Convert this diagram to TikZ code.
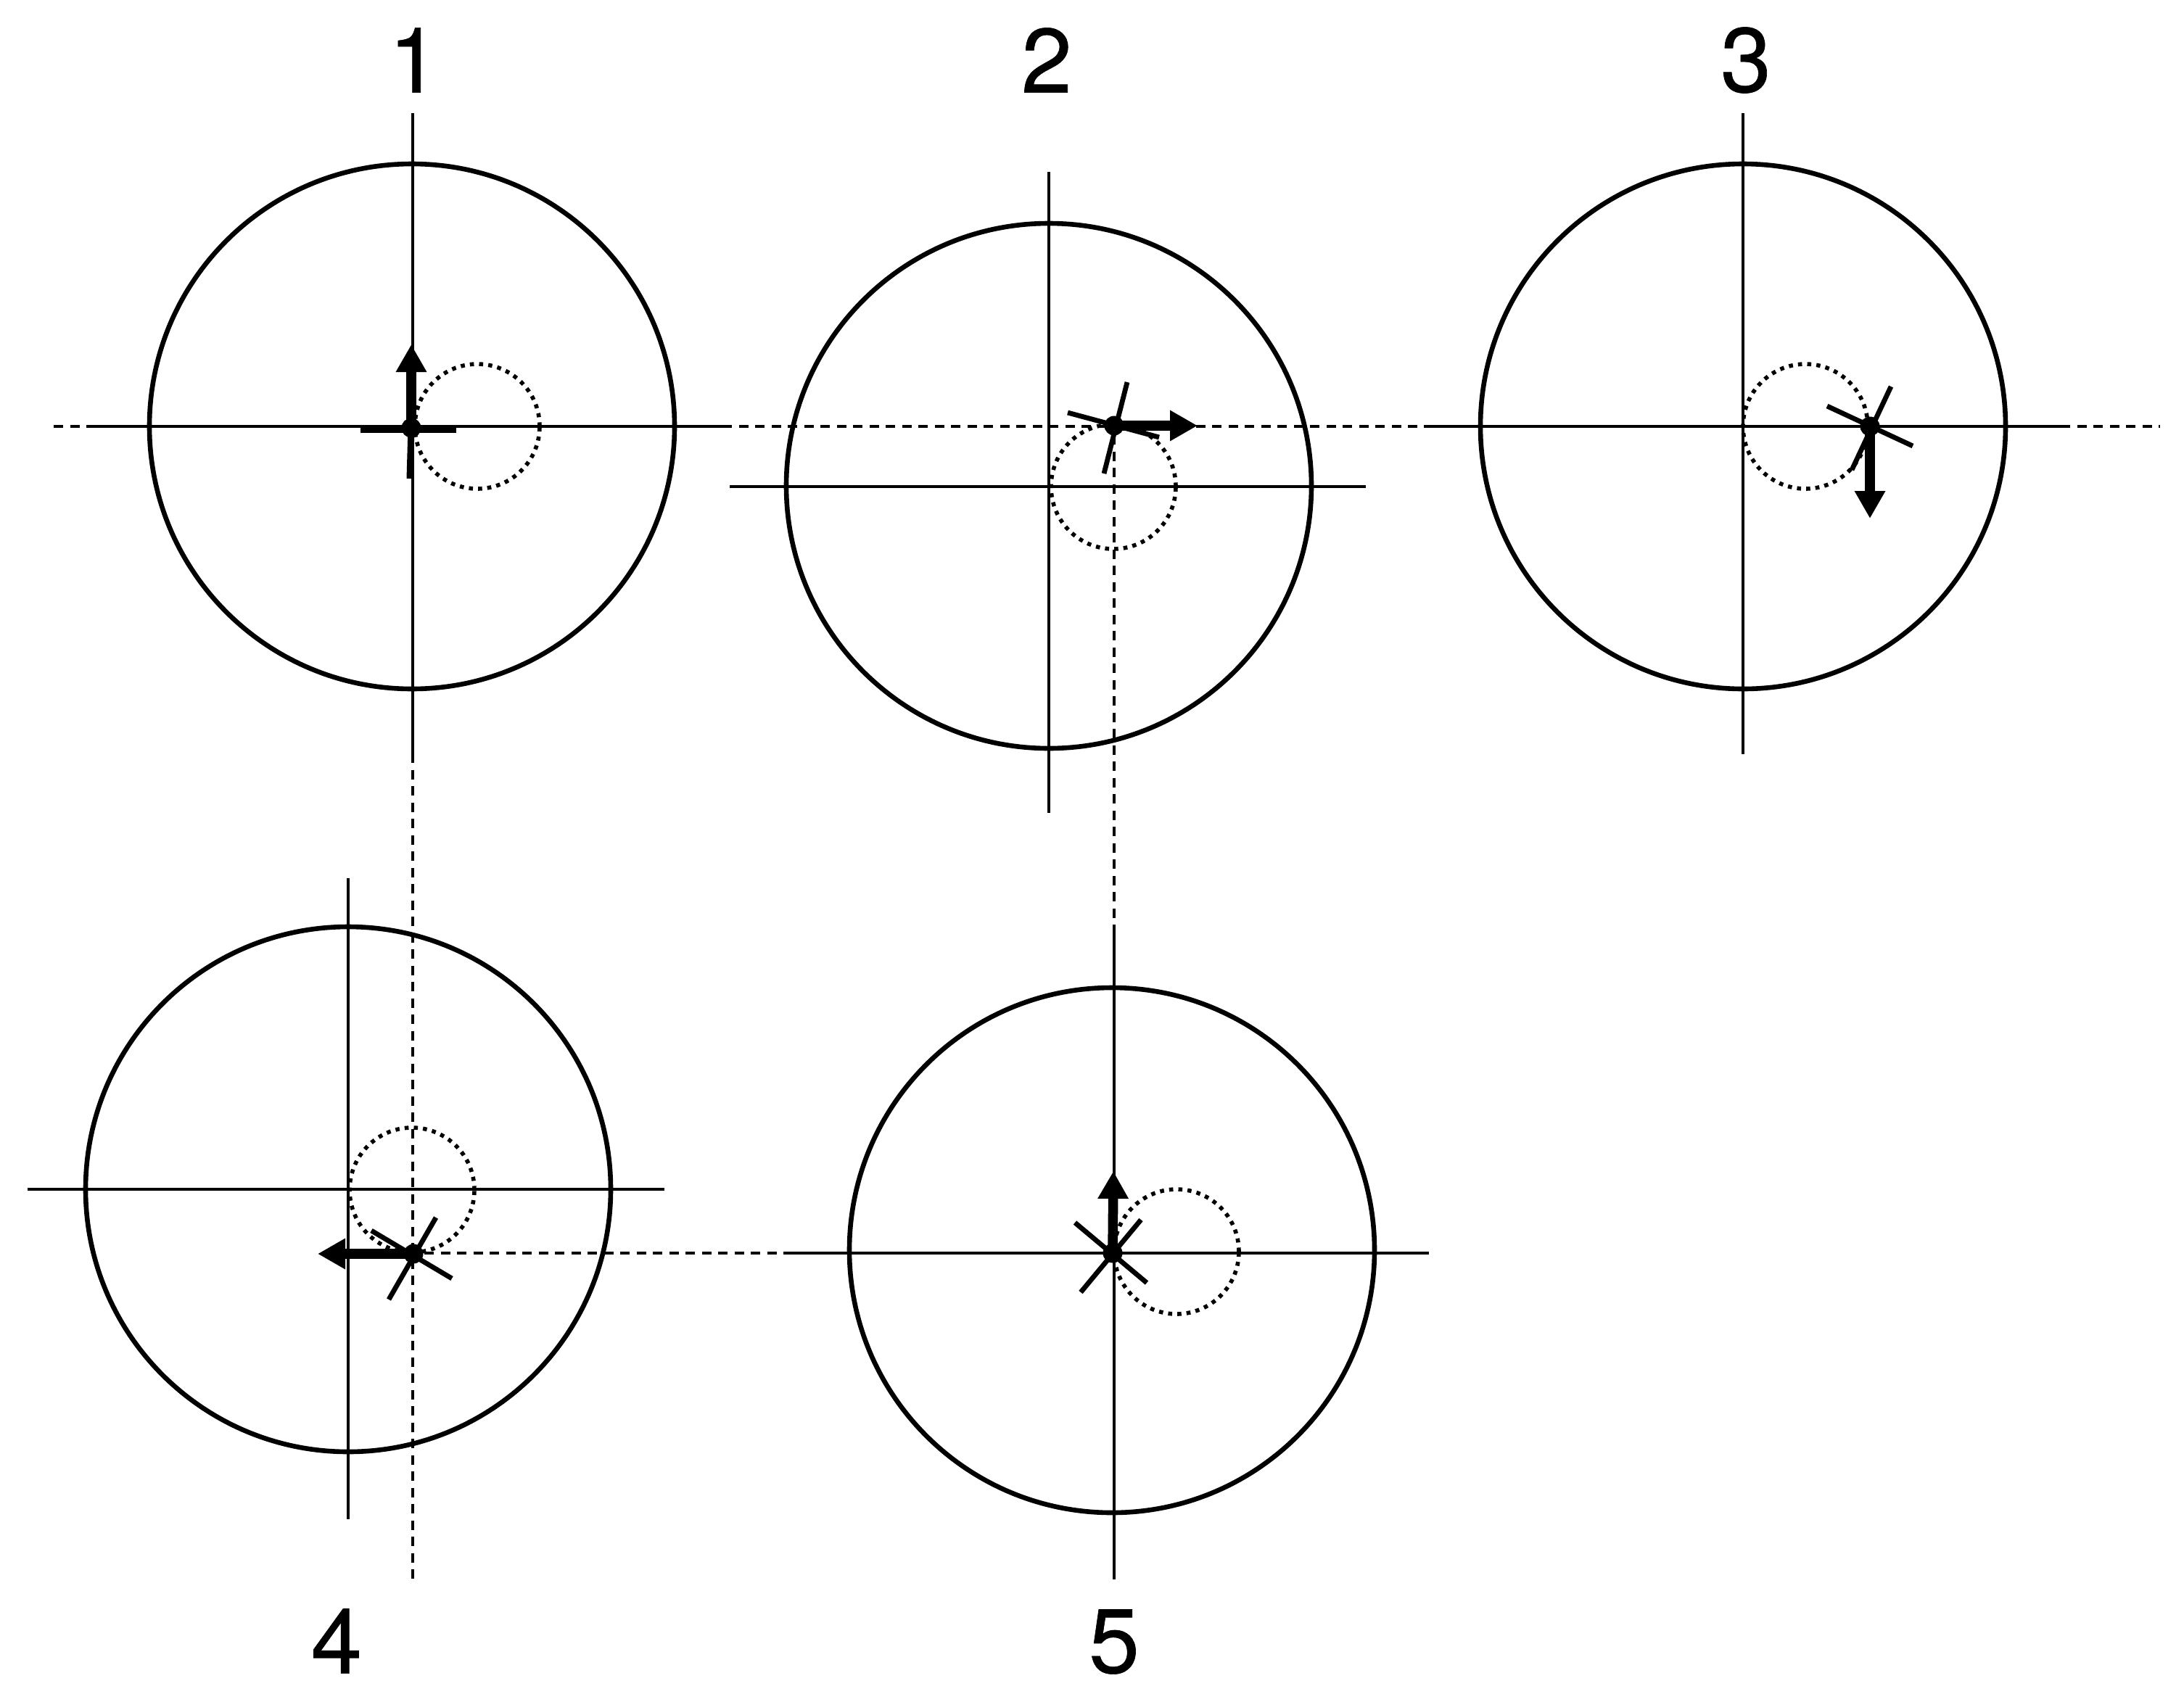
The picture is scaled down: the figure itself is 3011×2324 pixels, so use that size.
\documentclass[tikz,border=0pt]{standalone}
\usepackage{fontspec}
\newfontfamily\numfont[FakeBold=0.5]{TeX Gyre Heros}
\usetikzlibrary{arrows.meta}
\tikzset{
  big/.style={line width=0.66mm,black},
  axis/.style={line width=0.38mm,black},
  dashline/.style={line width=0.34mm,black,dash pattern=on 1.3mm off 0.95mm},
  orbit/.style={line width=0.56mm,black,dash pattern=on 0.56mm off 0.71mm},
  blade/.style={line width=0.68mm,black},
  bladethick/.style={line width=0.9mm,black},
  force/.style={line width=1.35mm,black,-{Triangle[length=3.8mm,width=4mm]}},
  hub/.style={circle,fill=black,inner sep=0pt,minimum size=2.7mm,outer sep=0pt},
  num/.style={font=\numfont\fontsize{35.8pt}{37pt}\selectfont,inner sep=0pt,outer sep=0pt}
}
\begin{document}
\begin{tikzpicture}[x=0.1mm,y=-0.1mm]
\useasboundingbox[fill=white] (0,0) rectangle (3011,2324);
% rotor centres
\coordinate (c1) at (568,588);
\coordinate (c2) at (1446,670);
\coordinate (c3) at (2403,588);
\coordinate (c4) at (480,1640);
\coordinate (c5) at (1533,1724);
% long dashed construction lines
\coordinate (dl) at (74,588);
\coordinate (dr) at (2978,588);
\coordinate (dv1a) at (569,1039);
\coordinate (dv1b) at (569,2183);
\coordinate (dv2a) at (1536,600);
\coordinate (dv2b) at (1536,1288);
\coordinate (dh4a) at (585,1728);
\coordinate (dh4b) at (1090,1728);
\draw[dashline] (dl) -- (dr);
\draw[dashline] (dv1a) -- (dv1b);
\draw[dashline] (dv2a) -- (dv2b);
\draw[dashline] (dh4a) -- (dh4b);
% big circles
\foreach \c in {c1,c2,c3,c4,c5} \draw[big] (\c) circle[radius=36.2mm];
% axes
\coordinate (a1t) at (569,156); \coordinate (a1b) at (569,1039);
\coordinate (a1l) at (119,588); \coordinate (a1r) at (1007,588);
\draw[axis] (a1t) -- (a1b); \draw[axis] (a1l) -- (a1r);
\coordinate (a2t) at (1446,237); \coordinate (a2b) at (1446,1121);
\coordinate (a2l) at (1006,671); \coordinate (a2r) at (1883,671);
\draw[axis] (a2t) -- (a2b); \draw[axis] (a2l) -- (a2r);
\coordinate (a3t) at (2403,156); \coordinate (a3b) at (2403,1040);
\coordinate (a3l) at (1963,588); \coordinate (a3r) at (2843,588);
\draw[axis] (a3t) -- (a3b); \draw[axis] (a3l) -- (a3r);
\coordinate (a4t) at (480,1211); \coordinate (a4b) at (480,2095);
\coordinate (a4l) at (38,1640); \coordinate (a4r) at (916,1640);
\draw[axis] (a4t) -- (a4b); \draw[axis] (a4l) -- (a4r);
\coordinate (a5t) at (1536,1288); \coordinate (a5b) at (1536,2178);
\coordinate (a5l) at (1090,1728); \coordinate (a5r) at (1970,1728);
\draw[axis] (a5t) -- (a5b); \draw[axis] (a5l) -- (a5r);
% orbit circles
\coordinate (o1) at (658,588);
\coordinate (o2) at (1535,671);
\coordinate (o3) at (2489,588);
\coordinate (o4) at (568,1641);
\coordinate (o5) at (1622,1726);
\foreach \o in {o1,o2,o3,o4,o5} \draw[orbit] (\o) circle[radius=8.6mm];
% stage 1
\node[hub] (h1) at (567,590) {};
\coordinate (b1l) at (497,592); \coordinate (b1r) at (629,592);
\coordinate (b1b) at (565,660); \coordinate (f1) at (567,475);
\draw[bladethick] (b1l) -- (b1r);
\draw[bladethick] (h1.center) -- (b1b);
\draw[force] (h1.center) -- (f1);
% stage 2
\node[hub] (h2) at (1536,587) {};
\coordinate (b2a) at (1554,527); \coordinate (b2b) at (1522,653);
\coordinate (b2c) at (1472,569); \coordinate (b2d) at (1598,603);
\coordinate (f2) at (1651,587);
\draw[blade] (b2a) -- (b2b);
\draw[blade] (b2c) -- (b2d);
\draw[force] (h2.center) -- (f2);
% stage 3
\node[hub] (h3) at (2578,588) {};
\coordinate (b3a) at (2607,533); \coordinate (b3b) at (2553,648);
\coordinate (b3c) at (2519,560); \coordinate (b3d) at (2637,615);
\coordinate (f3) at (2578,715);
\draw[blade] (b3a) -- (b3b);
\draw[blade] (b3c) -- (b3d);
\draw[force] (h3.center) -- (f3);
% stage 4
\node[hub] (h4) at (570,1729) {};
\coordinate (b4a) at (601,1679); \coordinate (b4b) at (536,1792);
\coordinate (b4c) at (512,1697); \coordinate (b4d) at (623,1763);
\coordinate (f4) at (438,1729);
\draw[blade] (b4a) -- (b4b);
\draw[blade] (b4c) -- (b4d);
\draw[force] (h4.center) -- (f4);
% stage 5
\node[hub] (h5) at (1534,1728) {};
\coordinate (b5a) at (1573,1682); \coordinate (b5b) at (1490,1782);
\coordinate (b5c) at (1482,1686); \coordinate (b5d) at (1581,1769);
\coordinate (f5) at (1535,1615);
\draw[blade] (b5a) -- (b5b);
\draw[blade] (b5c) -- (b5d);
\draw[force] (h5.center) -- (f5);
% labels
\node[num] (n1) at (571,83) {1};
\node[num] (n2) at (1443,83) {2};
\node[num] (n3) at (2407,83) {3};
\node[num] (n4) at (464,2263) {4};
\node[num] (n5) at (1536,2264) {5};
\end{tikzpicture}
\end{document}
